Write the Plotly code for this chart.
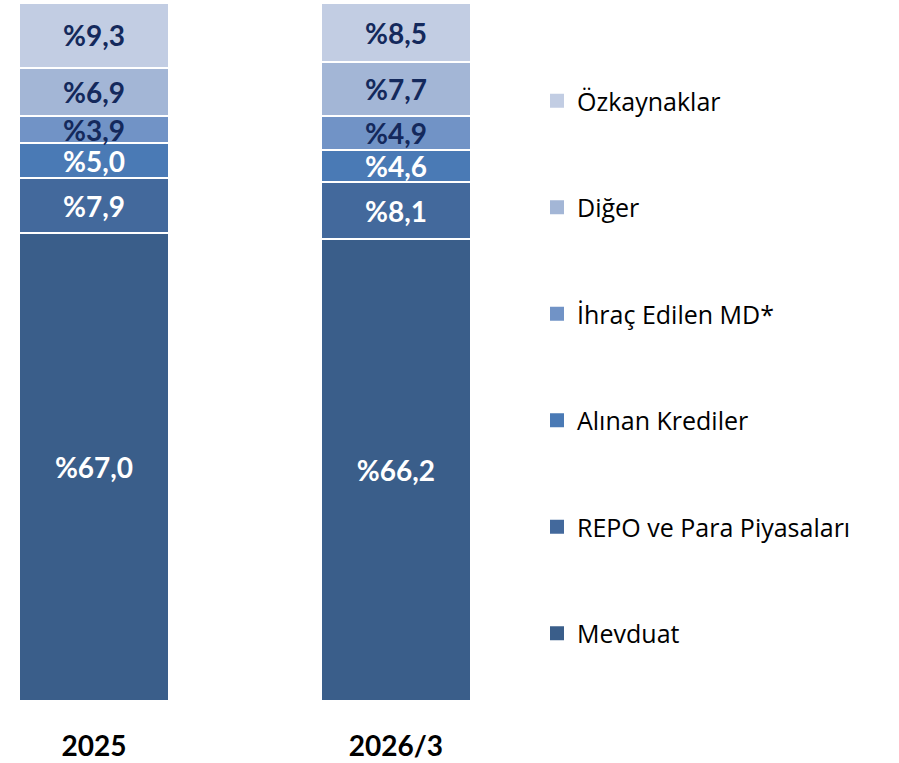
import plotly.graph_objects as go

# categories and series
years = ["2025", "2026/3"]
series_names = ["Mevduat", "REPO ve Para Piyasaları", "Alınan Krediler",
                "İhraç Edilen MD*", "Diğer", "Özkaynaklar"]
mevduat = [67.0, 66.2]
repo = [7.9, 8.1]
alinan = [5.0, 4.6]
ihrac = [3.9, 4.9]
diger = [6.9, 7.7]
ozkaynak = [9.3, 8.5]

colors = ["#3A5E8A", "#43699C", "#4A7AB5", "#7193C6", "#A3B6D6", "#C2CDE3"]
label_colors = ["white", "white", "white", "#14295C", "#14295C", "#14295C"]
all_series = [mevduat, repo, alinan, ihrac, diger, ozkaynak]

fig = go.Figure()

for i, (name, vals) in enumerate(zip(series_names, all_series)):
    fig.add_trace(go.Bar(
        x=years,
        y=vals,
        name=name,
        showlegend=False,
        marker=dict(color=colors[i], line=dict(color="white", width=2)),
        text=["%" + f"{v:.1f}".replace(".", ",") for v in vals],
        textposition="inside",
        insidetextanchor="middle",
        textangle=0,
        constraintext="none",
        textfont=dict(color=label_colors[i], size=28, family="Lato", weight="bold"),
        width=0.495,
        hoverinfo="skip",
    ))

# legend entries (top to bottom: Özkaynaklar ... Mevduat) with square swatches
for i in reversed(range(len(series_names))):
    fig.add_trace(go.Scatter(
        x=[None], y=[None],
        mode="markers",
        name=series_names[i],
        legendgroup=series_names[i],
        marker=dict(symbol="square", size=14, color=colors[i]),
        hoverinfo="skip",
    ))

fig.update_layout(
    width=899,
    height=763,
    barmode="stack",
    paper_bgcolor="white",
    plot_bgcolor="white",
    margin=dict(l=20, r=359, t=3, b=62, autoexpand=False),
    font=dict(family="Lato", color="black"),
    uniformtext=dict(mode="show", minsize=28),
    xaxis=dict(
        range=[-0.245, 1.477],
        showgrid=False,
        zeroline=False,
        showline=False,
        ticks="",
        ticklabelstandoff=26,
        tickfont=dict(size=28, family="Lato", weight="bold", color="black"),
    ),
    yaxis=dict(
        range=[0, 100],
        visible=False,
    ),
    legend=dict(
        traceorder="grouped",
        xref="container",
        yref="container",
        x=537 / 899,
        xanchor="left",
        y=1 - 78 / 763,
        yanchor="top",
        tracegroupgap=71,
        maxheight=1.0,
        font=dict(size=25, family="Open Sans", color="black"),
        itemwidth=30,
    ),
    showlegend=True,
)

fig.write_html(
    "out.html",
    config={"displayModeBar": False},
    post_script="document.body.style.margin='0';",
)
